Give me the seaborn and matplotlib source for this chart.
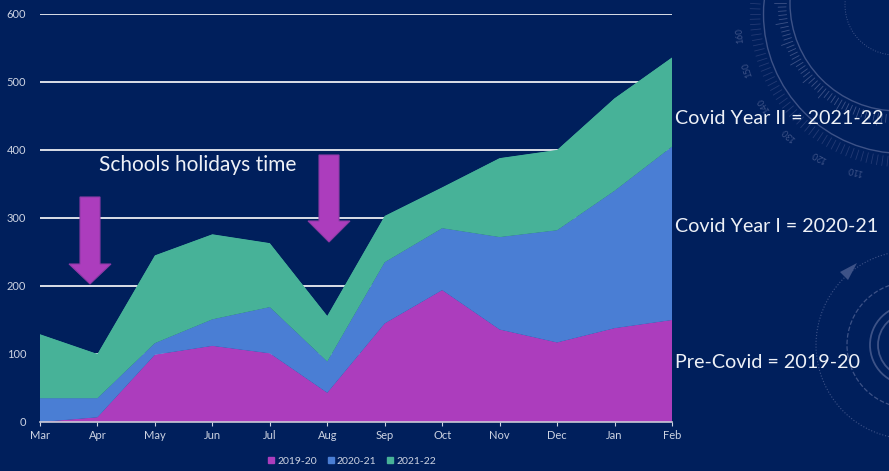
import matplotlib

matplotlib.use("Agg")
import matplotlib.pyplot as plt
import numpy as np
import pandas as pd
import seaborn as sns
import seaborn.objects as so
from matplotlib.lines import Line2D
from matplotlib.patches import Circle, Polygon

months = ["Mar", "Apr", "May", "Jun", "Jul", "Aug", "Sep", "Oct", "Nov", "Dec", "Jan", "Feb"]
series_names = ["2019-20", "2020-21", "2021-22"]
y2019 = [0, 7, 99, 112, 101, 43, 145, 194, 136, 117, 138, 150]
y2020 = [35, 28, 17, 39, 68, 46, 90, 91, 136, 165, 202, 255]
y2021 = [94, 65, 129, 125, 94, 67, 68, 60, 116, 118, 136, 131]
y_ticks = [0, 100, 200, 300, 400, 500, 600]
dial_labels = [110, 120, 130, 140, 150, 160]

BG = "#001f5c"
PURPLE = "#ac3dbd"
BLUE = "#4a7ed4"
GREEN = "#47b298"
DECO = "#3d5287"
DECO_FAINT = "#233a74"
W, H = 889, 471

sns.set_theme(style="white")
plt.rcParams["font.family"] = ["Lato", "DejaVu Sans"]

df = pd.DataFrame(
    {
        "month": list(range(len(months))) * 3,
        "value": y2019 + y2020 + y2021,
        "season": np.repeat(series_names, len(months)),
    }
)

fig = plt.figure(figsize=(W / 100, H / 100), dpi=100, facecolor=BG)
ax = fig.add_axes([40 / W, 1 - 422 / H, 632 / W, 408 / H], facecolor="none")


def px(x, y):
    return (x / W, 1 - y / H)


def deco_circle(x, y, r, **kw):
    # radius is in pixels, so draw in pixel space instead of figure fractions
    c = Circle((x, H - y), r, fill=False, color=DECO, transform=None, zorder=-5, **kw)
    fig.add_artist(c)


def deco_tick(cx, cy, ang, r0, r1, color):
    a = np.radians(ang)
    start = px(cx + r0 * np.cos(a), cy - r0 * np.sin(a))
    end = px(cx + r1 * np.cos(a), cy - r1 * np.sin(a))
    fig.add_artist(
        Line2D([start[0], end[0]], [start[1], end[1]], color=color, lw=0.6,
               transform=fig.transFigure, zorder=-5)
    )


def arrow(cx, top, neck, tip):
    pts = [
        (cx - 10, top), (cx + 10, top), (cx + 10, neck), (cx + 21, neck),
        (cx, tip), (cx - 21, neck), (cx - 10, neck),
    ]
    fig.add_artist(
        Polygon([px(*p) for p in pts], closed=True, transform=fig.transFigure,
                facecolor=PURPLE, edgecolor="#8f3aa6", lw=0.8, zorder=5)
    )


# background dial, top right
deco_circle(903, 14, 139.5, lw=1.0)
deco_circle(898, 3, 108, lw=1.0)
deco_circle(895, 5, 50, lw=0.7, linestyle=":")
for ang in np.arange(170, 300, 2.0):
    deco_tick(898, 3, ang, 112, 120 if ang % 10 else 124, DECO)
    deco_tick(903, 14, ang, 143, 153, DECO_FAINT)
for label, ang in zip(dial_labels, [255, 241, 227, 213, 198.6, 185.6]):
    a = np.radians(ang)
    fig.text(
        (895 + 156 * np.cos(a)) / W, 1 - (20 - 156 * np.sin(a)) / H, str(label),
        color=DECO, fontsize=6.5, rotation=ang - 90, ha="center", va="center",
        rotation_mode="anchor", zorder=-5,
    )

# background rings, bottom right
deco_circle(910, 345, 94, lw=0.8, linestyle=":")
deco_circle(910, 345, 63, lw=0.9, linestyle="--")
deco_circle(910, 345, 40, lw=1.3)
deco_circle(910, 345, 32, lw=1.3)
fig.add_artist(
    Polygon([px(857, 263), px(840, 272), px(848, 280)], closed=True,
            transform=fig.transFigure, facecolor=DECO, edgecolor="none", zorder=-5)
)

# gridlines sit under the areas
ax.set_axisbelow(True)
ax.yaxis.grid(True, color="white", lw=1.2)
ax.xaxis.grid(False)

(
    so.Plot(df, x="month", y="value", color="season")
    .add(so.Area(alpha=1, edgewidth=0.6), so.Stack(), legend=False)
    .scale(color={"2019-20": PURPLE, "2020-21": BLUE, "2021-22": GREEN})
    .on(ax)
    .plot()
)

ax.set_xlim(0, len(months) - 1)
ax.set_ylim(0, 600)
ax.set_xticks(range(len(months)), months)
ax.set_yticks(y_ticks)
ax.set_xlabel("")
ax.set_ylabel("")
ax.tick_params(axis="x", colors="#cdd3e2", labelsize=8, length=3, width=0.8, pad=3, bottom=True)
ax.tick_params(axis="y", colors="#cdd3e2", labelsize=8, length=0, pad=10)
sns.despine(ax=ax, left=True)
ax.spines["bottom"].set_color("#c9c9d6")
ax.spines["bottom"].set_linewidth(1.2)

arrow(90, 197, 264, 284)
arrow(329, 155, 221, 242)

fig.text(*px(99, 165), "Schools holidays time", color="#eef1f7", fontsize=15, va="center")
fig.text(*px(675, 118), "Covid Year II = 2021-22", color="#eef1f7", fontsize=14.2, va="center")
fig.text(*px(675, 226), "Covid Year I = 2020-21", color="#eef1f7", fontsize=14.2, va="center")
fig.text(*px(675, 362), "Pre-Covid = 2019-20", color="#eef1f7", fontsize=14.2, va="center")

handles = [
    Line2D([], [], marker="s", ls="", ms=4, color=c) for c in (PURPLE, BLUE, GREEN)
]
fig.legend(
    handles, series_names, loc="center", bbox_to_anchor=px(351, 461), ncol=3, frameon=False,
    fontsize=7.5, labelcolor="#cdd3e2", handlelength=1, handletextpad=0.1, columnspacing=0.8,
)

fig.savefig("out.png", dpi=100, facecolor=BG)
